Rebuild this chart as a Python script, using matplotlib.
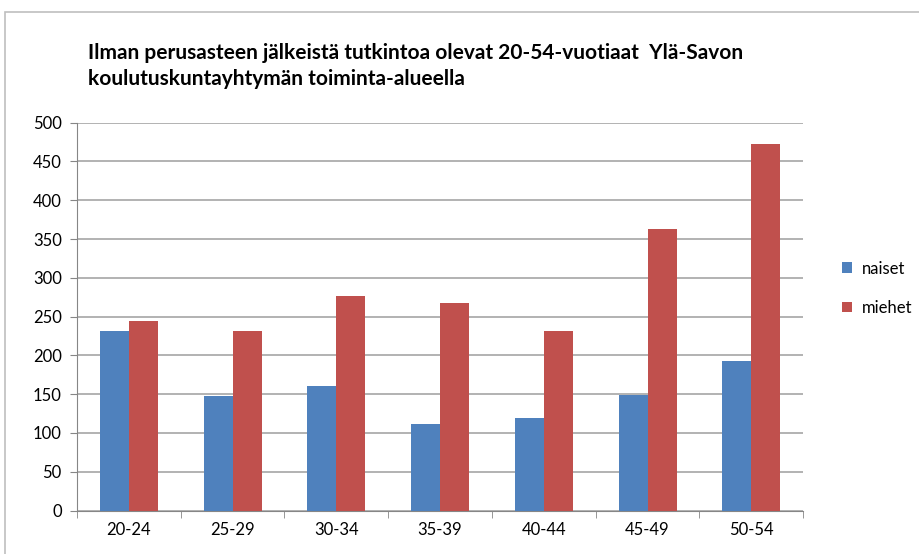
import matplotlib.pyplot as plt
import matplotlib.patches as mpatches
import numpy as np

ikaryhmat = ["20-24", "25-29", "30-34", "35-39", "40-44", "45-49", "50-54"]
naiset = [232, 147, 161, 111, 119, 149, 193]
miehet = [244, 232, 276, 268, 232, 363, 472]
y_ticks = [0, 50, 100, 150, 200, 250, 300, 350, 400, 450, 500]

SININEN = "#4F81BD"
PUNAINEN = "#C0504D"

plt.rcParams["font.family"] = ["Lato", "DejaVu Sans"]

fig = plt.figure(figsize=(9.2, 5.54), dpi=100)
ax = fig.add_axes([0.0837, 0.0785, 0.7893, 0.70])

# kehys koko kaavion ympärille
fig.patches.append(mpatches.Rectangle((5 / 920, -0.05), 2, 1.05 - 12 / 554,
                                      transform=fig.transFigure, fill=False,
                                      edgecolor="#BFBFBF", linewidth=1.2))

x = np.arange(len(ikaryhmat))
leveys = 0.28
ax.bar(x - leveys / 2, naiset, leveys, color=SININEN, label="naiset", zorder=3)
ax.bar(x + leveys / 2, miehet, leveys, color=PUNAINEN, label="miehet", zorder=3)

ax.set_xlim(-0.5, len(ikaryhmat) - 0.5)
ax.set_ylim(0, 500)
ax.set_yticks(y_ticks)
ax.set_yticklabels([str(v) for v in y_ticks], fontsize=12)
ax.set_xticks(x)
ax.set_xticklabels(ikaryhmat, fontsize=12)
ax.tick_params(axis="x", length=0, pad=8)
ax.set_xticks(np.arange(-0.5, len(ikaryhmat)), minor=True)
ax.tick_params(axis="x", which="minor", length=5, color="#868686")
ax.tick_params(axis="y", length=5, color="#868686", pad=6)

ax.yaxis.grid(True, color="#A6A6A6", linewidth=1.2, zorder=0)
ax.set_axisbelow(True)
for s in ["top", "right"]:
    ax.spines[s].set_visible(False)
ax.spines["left"].set_color("#868686")
ax.spines["bottom"].set_color("#868686")

fig.text(88 / 920, 1 - 66 / 554,
         "Ilman perusasteen jälkeistä tutkintoa olevat 20-54-vuotiaat  Ylä-Savon\n"
         "koulutuskuntayhtymän toiminta-alueella",
         fontsize=15, fontweight="bold", va="center", ha="left",
         linespacing=1.4)

ax.legend(loc="center left", frameon=False, borderaxespad=0,
          borderpad=0, fontsize=12, handlelength=0.6, handleheight=0.6,
          handletextpad=0.6, labelspacing=1.4)
ax.get_legend().set_bbox_to_anchor((1.054, 0.573), transform=ax.transAxes)

fig.savefig("out.png", dpi=100)
